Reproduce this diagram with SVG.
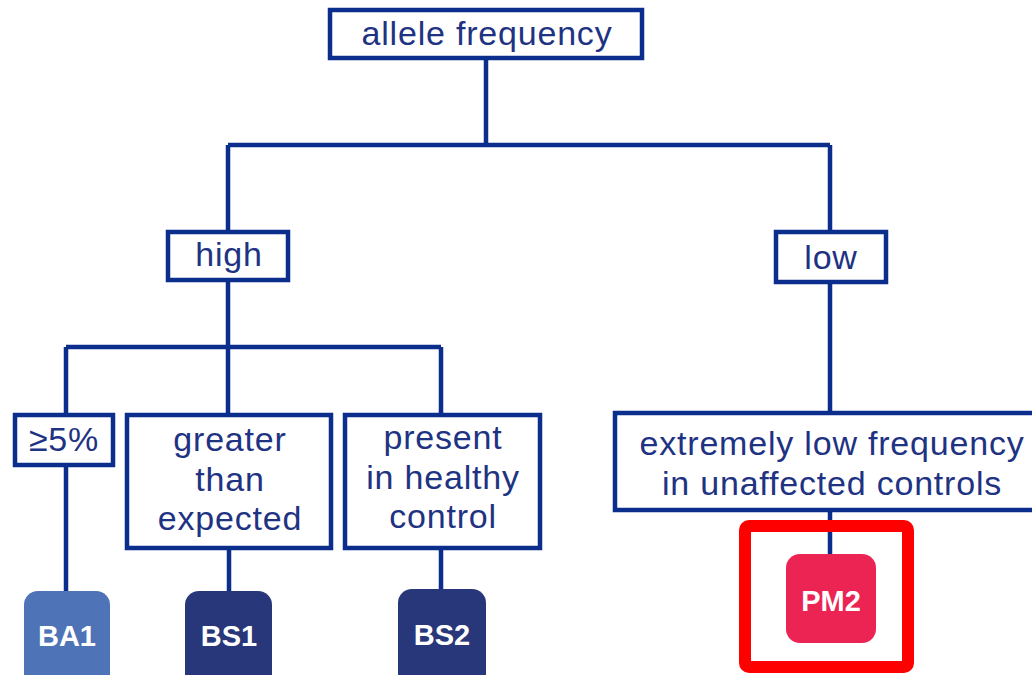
<svg xmlns="http://www.w3.org/2000/svg" width="1032" height="675" viewBox="0 0 1032 675">
<style>
.box{fill:#fff;stroke:#0b2d8b;stroke-width:4.5}
.lbl{font-family:"Liberation Sans","DejaVu Sans",sans-serif;font-size:34px;letter-spacing:0.8px;fill:#1f3383;text-anchor:middle}
.conn{stroke:#0b2d8b;stroke-width:4.5;fill:none}
.tag{font-family:"Liberation Sans Narrow","Liberation Sans",sans-serif;font-size:29px;font-weight:bold;fill:#fff;text-anchor:middle}
</style>
<rect width="1032" height="675" fill="#fff"/>
<g id="connectors">
<path class="conn" d="M486 58V145M228 145H830M228 145V232M830 145V232"/>
<path class="conn" d="M228 280V415M66 347H441M66 347V415M441 347V415"/>
<path class="conn" d="M66 465V592M229 548V592M441 548V590"/>
<path class="conn" d="M830 282V413M830 510V556"/>
</g>
<g id="n-allele"><rect class="box" x="330" y="10" width="312" height="48"/><text class="lbl" x="487" y="45">allele frequency</text></g>
<g id="n-high"><rect class="box" x="168" y="232" width="120" height="48"/><text class="lbl" x="229" y="266">high</text></g>
<g id="n-low"><rect class="box" x="776" y="232" width="110" height="50"/><text class="lbl" x="831" y="269">low</text></g>
<g id="n-ge5"><rect class="box" x="15" y="415" width="98" height="50"/><text class="lbl" x="64" y="451">≥5%</text></g>
<g id="n-greater"><rect class="box" x="127" y="415" width="204" height="133"/><text class="lbl" x="230" y="451">greater</text><text class="lbl" x="230" y="491">than</text><text class="lbl" x="230" y="530">expected</text></g>
<g id="n-present"><rect class="box" x="345" y="415" width="195" height="133"/><text class="lbl" x="443" y="449">present</text><text class="lbl" x="443" y="489">in healthy</text><text class="lbl" x="443" y="528">control</text></g>
<g id="n-extreme"><rect class="box" x="615" y="413" width="430" height="97"/><text class="lbl" x="832" y="455">extremely low frequency</text><text class="lbl" x="832" y="495">in unaffected controls</text></g>
<g id="n-ba1"><rect x="24" y="591" width="86" height="100" rx="14" fill="#4e73b6"/><text class="tag" x="67" y="646">BA1</text></g>
<g id="n-bs1"><rect x="185" y="591" width="87" height="100" rx="14" fill="#283779"/><text class="tag" x="229" y="646">BS1</text></g>
<g id="n-bs2"><rect x="398" y="589" width="88" height="100" rx="14" fill="#283779"/><text class="tag" x="442" y="645">BS2</text></g>
<g id="n-pm2"><rect x="786" y="554" width="90" height="89" rx="14" fill="#ec2453"/><text class="tag" x="831" y="611">PM2</text></g>
<g id="highlight"><rect x="745" y="526" width="163" height="141" rx="4" fill="none" stroke="#ff0000" stroke-width="12"/></g>
</svg>
